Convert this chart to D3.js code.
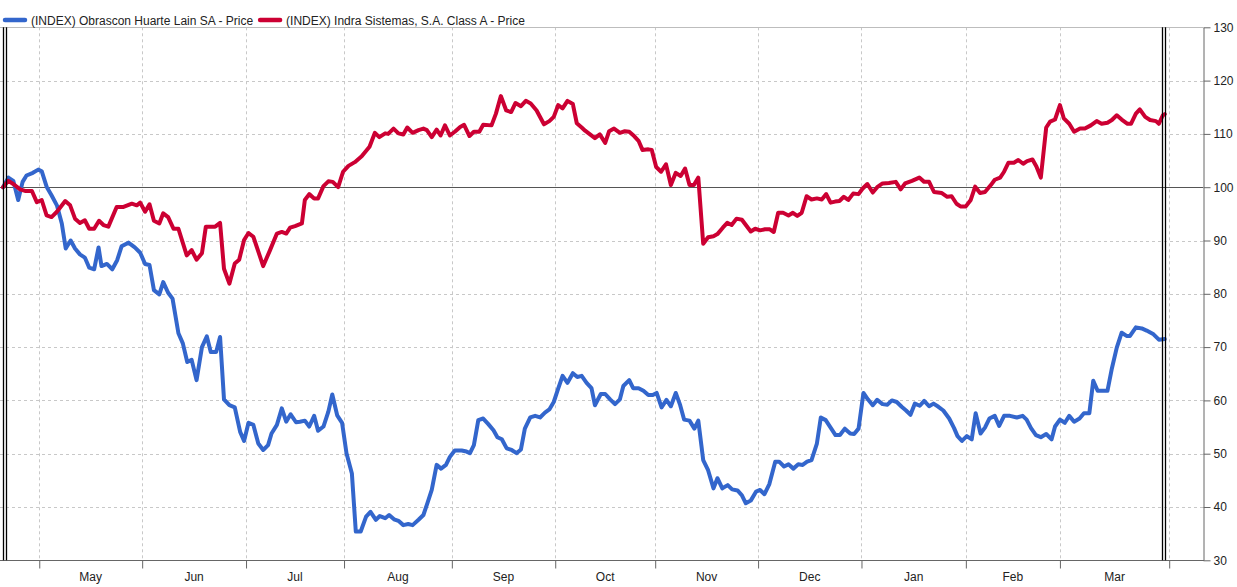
<!DOCTYPE html>
<html><head><meta charset="utf-8">
<script src="https://cdn.jsdelivr.net/npm/d3@7"></script>
<style>
body{margin:0;background:#fff;}
text{font-family:"Liberation Sans",Arial,sans-serif;}
</style>
</head><body>
<svg id="chart" width="1237" height="587"></svg>
<script>
const seriesNames = ["(INDEX) Obrascon Huarte Lain SA - Price", "(INDEX) Indra Sistemas, S.A. Class A - Price"];
const monthLabels = ["May","Jun","Jul","Aug","Sep","Oct","Nov","Dec","Jan","Feb","Mar"];
// month boundaries, in trading days from the start
const monthTicks = [7.4, 28.4, 49.6, 69.6, 91.6, 112.7, 133.1, 154.1, 175.2, 196.5, 215.7, 238];
const yTicks = [30,40,50,60,70,80,90,100,110,120,130];

// [trading day, indexed price]
const ohlData = [
[0,100],[1.1,101.8],[2.1,101.2],[3.1,97.6],[4,101],[4.8,102.2],[6.1,102.7],[7.2,103.3],[7.9,103],
[8.9,100.1],[9.9,98.5],[11,96.6],[12,93.2],[12.8,88.5],[13.8,90],[14.7,88.5],[15.7,87.4],[16.7,86.8],
[17.6,84.9],[18.6,84.6],[19.5,88.7],[20.1,85.2],[21.2,85.6],[22.3,84.6],[23.3,86.3],[24.2,88.9],[25.6,89.6],
[26.9,88.7],[28,87.7],[29,85.6],[29.9,85.4],[30.8,80.7],[31.9,79.9],[32.7,82.2],[33.7,80.2],[34.6,79.1],
[35.8,72.6],[36.7,70.7],[37.6,67.2],[38.5,67.6],[39.5,63.8],[40.6,70],[41.6,72],[42.4,69.1],[43.5,69.1],
[44.3,71.9],[45.1,60.2],[46.2,59.1],[47.3,58.7],[48.4,54.1],[49.2,52.4],[50.1,55.8],[51.1,55.4],[52.1,51.9],
[53.1,50.7],[54.1,51.6],[54.8,53.8],[55.9,55.4],[56.9,58.5],[57.8,56],[58.7,57.4],[59.8,55.9],[60.6,56],
[61.6,56.2],[62.5,55.1],[63.5,57.1],[64.3,54.3],[65.4,55.1],[66.4,57.9],[67.2,61.1],[68.2,57.2],[69.2,55.8],
[70.1,50.1],[71.2,46.3],[72,35.4],[73,35.4],[74.1,38.2],[75,39.1],[76.1,37.6],[76.9,38.3],[78,37.9],
[78.8,38.5],[79.8,37.7],[80.7,37.4],[81.7,36.6],[82.7,36.8],[83.6,36.6],[84.8,37.6],[85.8,38.5],[86.6,40.7],
[87.5,43.2],[88.5,47.9],[89.4,47.2],[90.4,47.9],[91.2,49.4],[92.2,50.6],[93.6,50.6],[94.6,50.4],[95.3,50.1],
[96.1,51.6],[97,56.3],[98,56.6],[99,55.6],[100.1,54.4],[100.9,53.1],[101.8,52.7],[102.8,51],[103.8,50.7],
[104.8,50.1],[105.7,50.8],[106.5,54.7],[107.6,56.8],[108.6,57.1],[109.6,56.8],[110.6,57.7],[111.5,58.3],
[112.4,59.7],[113.3,62.2],[114.2,64.6],[115.2,63.3],[116.3,65.1],[117.2,64.4],[118.1,64.6],[119.1,63.3],
[120.1,62.3],[120.8,59.1],[122,61.2],[122.9,61.2],[123.9,60.2],[124.9,59.3],[125.9,60.2],[126.6,62.7],
[127.8,63.8],[128.6,62.3],[129.7,62.3],[130.7,61.8],[131.7,61],[132.6,61],[133.4,61.4],[134.4,58.7],
[135.4,60.1],[136.3,58.9],[137.3,61.4],[138.2,59.1],[139,56.4],[140.1,56.2],[141.1,54.7],[141.9,56.2],
[142.9,48.8],[143.9,46.9],[145,43.5],[145.8,45.4],[146.8,43.5],[147.9,44.1],[148.8,43.3],[149.9,43.1],
[150.8,42.2],[151.6,40.7],[152.6,41.2],[153.7,42.9],[154.5,43.2],[155.4,42.4],[156.4,44.3],[157.6,48.5],
[158.4,48.5],[159.4,47.6],[160.3,48],[161.3,47.2],[162.3,48],[163.2,47.9],[164.1,48.5],[165,48.8],
[166.1,51.9],[166.9,56.8],[167.9,56.3],[168.9,54.9],[169.9,53.5],[170.8,53.5],[171.8,54.7],[172.9,53.8],
[173.7,53.7],[174.6,54.7],[175.6,61.4],[176.5,60.2],[177.5,59.1],[178.4,60.1],[179.5,59.3],[180.5,59.2],
[181.4,60],[182.4,59.7],[183.4,58.8],[184.3,58.1],[185.2,57.3],[186.1,59.4],[187.1,59],[188,59.9],
[189,58.9],[189.9,59.4],[190.9,58.8],[191.9,58.1],[193.1,56.6],[194.1,54.8],[194.8,53.3],[195.7,52.4],
[196.7,53.3],[197.7,52.7],[198.5,57.6],[199.5,53.8],[200.4,54.9],[201.3,56.6],[202.4,57.1],[203.3,55.2],
[204.3,57.1],[205.5,57.1],[206.9,56.8],[208.1,57.1],[208.9,56.4],[209.8,54.8],[210.8,53.5],[211.8,53.1],
[212.9,53.7],[214,52.7],[214.7,55.1],[215.7,56.4],[216.7,55.8],[217.6,57.1],[218.6,56],[219.7,56.6],
[220.6,57.6],[221.7,57.6],[222.5,63.7],[223.4,61.8],[225.4,61.8],[226.3,66],[227.3,69.9],[228.3,72.7],
[229.3,72.1],[230,72.1],[231.2,73.7],[232.4,73.5],[233.4,73.1],[234.8,72.4],[235.9,71.4],[237.1,71.5]
];

const indraData = [
[0,100],[1.1,101.2],[2.1,100.6],[3.5,99.6],[4.5,99.3],[5.9,99.3],[6.9,97.2],[7.9,97.6],[8.9,94.7],
[9.9,94.4],[11,95.4],[12.7,97.4],[13.7,96.6],[14.7,94.1],[15.7,93.3],[16.7,93.8],[17.6,92.2],[18.6,92.2],
[19.6,93.7],[20.5,92.9],[21.5,92.6],[23.2,96.3],[24.6,96.3],[26.3,96.9],[27.3,96.6],[28,97.1],[29,95.4],
[29.9,96.8],[30.8,93.7],[31.9,93.2],[32.7,95.1],[33.7,94.4],[34.8,92.2],[35.8,92.2],[37.5,87.2],[38.5,88.2],
[39.5,86.4],[40.6,87.6],[41.4,92.6],[43.3,92.6],[44.3,93.3],[45.1,84.7],[46.2,81.9],[47.3,85.7],[48.2,86.4],
[49.2,90.1],[50.1,91.4],[51.1,90.7],[53.1,85.2],[54.5,88.2],[55.9,91.3],[56.9,91.6],[57.8,91.3],[58.6,92.4],
[59.6,92.7],[61,93.2],[61.6,97.6],[62.5,98.7],[63.5,97.9],[64.3,97.9],[65.4,100.2],[66.4,101.1],[67.3,101],
[68.4,100],[69.4,102.9],[70.5,104],[71.8,104.7],[73.2,105.8],[74.8,107.6],[75.9,110.2],[76.8,109.4],[78,110.1],
[78.6,110],[79.7,111],[80.7,110.1],[81.7,109.9],[82.5,111.2],[83.6,110.2],[84.8,110.7],[85.8,111],[86.5,110.7],
[87.5,109.4],[88.5,110.8],[89.3,109.7],[90.2,111.6],[91.2,109.7],[92.2,110.4],[93.3,111.3],[94.1,111.7],
[95.2,109.6],[96.1,110.4],[97.2,110.4],[98,111.7],[99.7,111.6],[100.6,113.8],[101.6,117.1],[102.7,114.4],
[103.7,114.1],[104.6,115.8],[105.7,115.2],[106.7,116.2],[107.7,115.7],[108.9,114.4],[110.4,111.8],[111.5,112.4],
[112.4,113.2],[113.3,115.4],[114.2,114.8],[115.2,116.2],[116.3,115.6],[117.1,112],[118.1,111.2],[118.8,110.6],
[119.8,109.9],[120.8,109.2],[121.8,109.9],[122.9,108.3],[123.7,110.5],[124.7,111],[125.9,110.2],[126.9,110.5],
[127.8,110.4],[128.8,109.6],[129.7,108.7],[130.5,107],[131.7,107.1],[132.4,107],[133.3,103.8],[134.3,102.9],
[135.3,104.3],[136.3,100.4],[137.3,102.7],[138.3,102.1],[139.2,103.5],[140.1,100.4],[141,100.4],[141.9,101.8],
[142.9,89.4],[143.9,90.6],[145,90.8],[145.8,91.2],[146.9,92.4],[147.8,93.3],[148.7,92.9],[149.7,94.1],
[150.8,93.9],[151.6,92.9],[152.6,91.7],[153.5,92.2],[154.5,91.9],[155.5,92.1],[156.5,92.1],[157.3,91.6],
[158.2,95.2],[159.2,95.2],[160.3,94.7],[161.2,95.2],[162.1,94.6],[163,95.2],[164,98.3],[165,97.7],[166.1,97.9],
[167.1,97.7],[168,98.7],[168.9,97.1],[169.8,97.3],[170.7,97.4],[171.6,98.2],[172.5,97.6],[173.5,98.8],
[174.6,98.7],[175.4,99.7],[176.4,100.6],[177.5,99],[178.4,100],[179.5,100.7],[180.8,100.8],[182.2,101],
[183.2,99.6],[184.1,100.7],[185.5,101.2],[187,101.8],[188,101],[189,101],[190,99.1],[191.6,98.9],[192.7,98.2],
[193.6,98.3],[194.6,96.9],[195.4,96.4],[196.5,96.4],[197.5,97.6],[198.4,100.1],[199.4,98.9],[200.4,99.1],
[201.6,100.4],[202.4,101.4],[203.5,101.8],[204.3,102.9],[205.2,104.6],[206.3,104.6],[207.2,105.1],[208.2,104.4],
[209,104.9],[210.1,105.2],[210.9,103.9],[211.8,101.8],[212.9,111.2],[213.7,112.3],[214.7,112.7],[215.7,115.4],
[216.5,112.9],[217.6,111.9],[218.6,110.4],[219.8,111],[220.8,111],[222,111.6],[223.2,112.4],[224.2,111.9],
[225.4,112.1],[226.3,112.6],[227.3,113.5],[228.3,112.7],[229.5,111.9],[230.2,111.9],[231.2,113.8],[232,114.6],
[233.1,113.2],[234.1,112.6],[235.3,112.4],[235.9,111.9],[236.7,113.5],[237.1,113.7]
];

const colors = ["#3366CC", "#CC0033"];

const svg = d3.select("#chart");
const plotLeft = 0, plotRight = 1203, plotTop = 27.3, plotBottom = 560.3;

const x = d3.scaleLinear().domain([0, 238]).range([3, 1169.2]);
const y = d3.scaleLinear().domain([30, 130]).range([plotBottom, plotTop]);

// horizontal grid
svg.append("g").selectAll("line").data(yTicks.filter(v => v > 30 && v < 130 && v !== 100))
  .join("line")
  .attr("x1", plotLeft).attr("x2", plotRight)
  .attr("y1", d => Math.round(y(d)) + 0.5).attr("y2", d => Math.round(y(d)) + 0.5)
  .attr("stroke", "#c8c8c8").attr("stroke-dasharray", "3,3");

// vertical grid
svg.append("g").selectAll("line").data(monthTicks)
  .join("line")
  .attr("x1", d => Math.round(x(d)) + 0.5).attr("x2", d => Math.round(x(d)) + 0.5)
  .attr("y1", plotTop).attr("y2", plotBottom)
  .attr("stroke", "#c8c8c8").attr("stroke-dasharray", "3,3");

// top border
svg.append("line").attr("x1", plotLeft).attr("x2", plotRight)
  .attr("y1", Math.round(y(130)) + 0.5).attr("y2", Math.round(y(130)) + 0.5)
  .attr("stroke", "#bdbdbd");

// 100 baseline
svg.append("line").attr("x1", plotLeft).attr("x2", plotRight)
  .attr("y1", Math.round(y(100)) + 0.5).attr("y2", Math.round(y(100)) + 0.5)
  .attr("stroke", "#555");

// right axis
const yAxis = svg.append("g").attr("transform", `translate(${plotRight + 0.5},0)`)
  .call(d3.axisRight(y).tickValues(yTicks).tickSize(7).tickSizeOuter(0).tickPadding(3));
yAxis.select(".domain").attr("stroke", "#666");
yAxis.selectAll(".tick line").attr("stroke", "#666");
yAxis.selectAll(".tick text").attr("font-size", 12).attr("fill", "#222")
  .attr("font-family", "Liberation Sans, Arial, sans-serif");

// bottom axis
const xAxis = svg.append("g").attr("transform", `translate(0,${Math.round(plotBottom) + 0.5})`)
  .call(d3.axisBottom(x).tickValues(monthTicks).tickSize(8).tickSizeOuter(0).tickFormat(""));
xAxis.select(".domain").remove();
xAxis.selectAll(".tick line").attr("stroke", "#666");
svg.append("line").attr("x1", plotLeft).attr("x2", plotRight + 1)
  .attr("y1", Math.round(plotBottom) + 0.5).attr("y2", Math.round(plotBottom) + 0.5)
  .attr("stroke", "#666");

// month labels centred between boundaries
svg.append("g").selectAll("text").data(monthLabels)
  .join("text")
  .attr("x", (d, i) => (x(monthTicks[i]) + x(monthTicks[i + 1])) / 2)
  .attr("y", 581)
  .attr("text-anchor", "middle")
  .attr("font-size", 12).attr("fill", "#222")
  .text(d => d);

// series lines
const line = d3.line().x(d => x(d[0])).y(d => y(d[1])).curve(d3.curveLinear);
[ohlData, indraData].forEach((data, i) => {
  svg.append("path").datum(data)
    .attr("d", line)
    .attr("fill", "none")
    .attr("stroke", colors[i])
    .attr("stroke-width", 4)
    .attr("stroke-linejoin", "round")
    .attr("stroke-linecap", "round");
});

// start / end range markers
const firstDay = ohlData[0][0], lastDay = ohlData[ohlData.length - 1][0];
[[x(firstDay) - 0.5, x(firstDay) + 3], [x(lastDay) - 3, x(lastDay) + 0.5]].forEach(pair => {
  pair.forEach(px => {
    svg.append("line")
      .attr("x1", Math.round(px) + 0.5).attr("x2", Math.round(px) + 0.5)
      .attr("y1", plotTop).attr("y2", plotBottom)
      .attr("stroke", "#000").attr("stroke-width", 1.3);
  });
});

// legend
const legend = svg.append("g");
let lx = 5;
seriesNames.forEach((name, i) => {
  legend.append("line")
    .attr("x1", lx).attr("x2", lx + 20).attr("y1", 20).attr("y2", 20)
    .attr("stroke", colors[i]).attr("stroke-width", 4.5).attr("stroke-linecap", "round");
  const t = legend.append("text")
    .attr("x", lx + 26).attr("y", 24.5)
    .attr("font-size", 12).attr("fill", "#222")
    .text(name);
  lx = lx + 26 + t.node().getComputedTextLength() + 7;
});
</script>
</body></html>
